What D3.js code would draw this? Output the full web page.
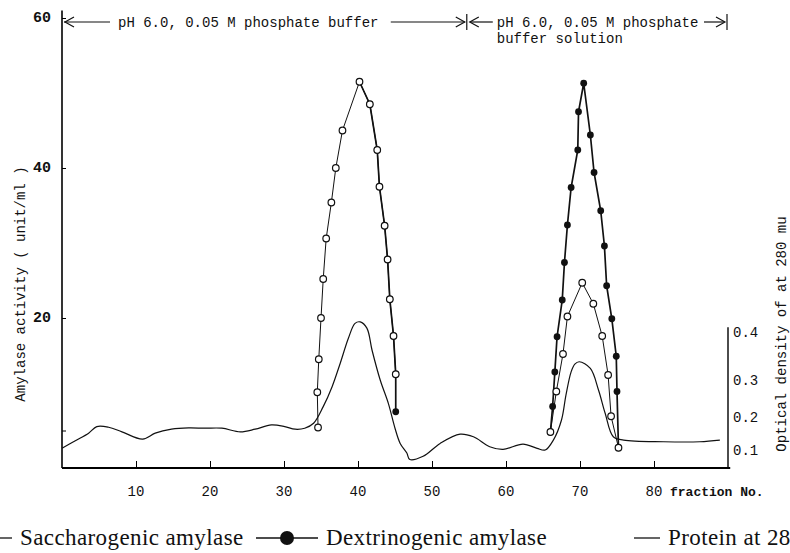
<!DOCTYPE html>
<html>
<head>
<meta charset="utf-8">
<script src="https://cdn.jsdelivr.net/npm/d3@7"></script>
<style>
  body { margin: 0; background: #fff; overflow: hidden; }
  text { fill: #111; }
</style>
</head>
<body>
<div class="chart"></div>
<script>
// fraction No. vs amylase activity (unit/ml), protein as OD at 280 mu
const fractionTicks = [10, 20, 30, 40, 50, 60, 70, 80];
const amylaseTicks = [5, 20, 40, 60];
const amylaseLabels = [20, 40, 60];
const odTicks = [0.1, 0.2, 0.3, 0.4];

const saccharogenicPeak1 = [[34.6, 5.4], [34.5, 10.1], [34.7, 14.5], [35.0, 20.0], [35.3, 25.2], [35.7, 30.6],
  [36.4, 35.4], [37.0, 40.0], [37.9, 45.0], [40.2, 51.5], [41.6, 48.5], [42.6, 42.4], [42.9, 37.5],
  [43.6, 32.3], [44.0, 27.8], [44.3, 22.5], [44.8, 17.6], [45.1, 12.5]];
const saccharogenicPeak2 = [[66.0, 4.8], [66.8, 10.2], [67.7, 15.2], [68.3, 20.2], [70.3, 24.7], [71.8, 21.9],
  [73.0, 17.6], [73.8, 12.4], [74.2, 6.9], [75.2, 2.7]];
const dextrinogenicPeak1 = [[40.2, 51.5], [41.6, 48.5], [42.6, 42.4], [42.9, 37.5], [43.6, 32.3], [44.0, 27.8],
  [44.3, 22.5], [44.8, 17.6], [45.1, 12.5], [45.1, 7.5]];
const dextrinogenicPeak2 = [[66.0, 4.8], [66.3, 8.2], [66.6, 12.8], [66.9, 17.5], [67.6, 22.4], [67.9, 27.4],
  [68.3, 32.4], [68.8, 37.4], [69.7, 42.4], [69.8, 47.5], [70.5, 51.3], [71.4, 44.4], [71.9, 39.4],
  [72.8, 34.3], [73.3, 29.6], [73.6, 24.3], [74.3, 19.9], [74.9, 14.9], [75.0, 10.2], [75.2, 2.7]];
const protein = [[0, 0.105], [1.8, 0.128], [3.6, 0.151], [4.7, 0.171], [6.3, 0.169], [8.1, 0.155], [10.9, 0.133],
  [12.6, 0.151], [14.8, 0.163], [17.1, 0.167], [19.3, 0.166], [21.6, 0.166], [24.1, 0.155], [26.1, 0.163],
  [28.3, 0.176], [30.1, 0.171], [31.5, 0.163], [32.8, 0.166], [34.0, 0.181], [35.3, 0.228], [36.5, 0.282],
  [37.6, 0.335], [38.7, 0.387], [39.6, 0.418], [40.3, 0.421], [41.2, 0.408], [41.9, 0.362], [43.0, 0.300],
  [44.1, 0.237], [45.0, 0.166], [45.7, 0.120], [46.6, 0.083], [47.0, 0.047], [48.8, 0.065], [51.1, 0.120],
  [53.8, 0.148], [55.6, 0.140], [57.8, 0.110], [59.6, 0.102], [62.3, 0.118], [64.2, 0.105], [65.3, 0.100],
  [66.4, 0.130], [67.5, 0.191], [68.1, 0.259], [68.8, 0.317], [69.3, 0.333], [69.9, 0.338], [71.4, 0.324],
  [72.5, 0.273], [73.4, 0.210], [74.5, 0.140], [75.9, 0.130], [81.3, 0.125], [86.2, 0.125], [88.9, 0.130]];
// buffer regions along the fraction axis (top annotation)
const bufferBounds = [0, 54.7, 90];
const bufferLabels = ['pH 6.0, 0.05 M phosphate buffer', 'pH 6.0, 0.05 M phosphate', 'buffer solution'];
const legendLabels = ['Saccharogenic amylase', 'Dextrinogenic amylase', 'Protein at 280 mu'];

const W = 790, H = 553;
const mono = '"Liberation Mono", "DejaVu Sans Mono", monospace';
const serif = '"Liberation Serif", "DejaVu Serif", serif';

let svg = d3.select('.chart')
  .append('svg')
    .attr('width', W)
    .attr('height', H);

let x = d3.scaleLinear().domain([0, 90]).range([62, 728]);
let y = d3.scaleLinear().domain([0, 60]).range([468, 18]);
// the OD scale on the right is hand-spaced, not even
let yOD = d3.scaleLinear().domain([0, 0.1, 0.2, 0.3, 0.4]).range([468, 450, 417, 380, 332]);

// left axis
let yAxis = d3.axisRight(y)
  .tickValues(amylaseTicks)
  .tickSize(4)
  .tickFormat('');
svg.append('g')
  .attr('transform', `translate(${x(0)}, 0)`)
  .call(yAxis)
  .call(g => g.select('.domain').attr('d', `M0,${y(61)}V${y(0)}`).attr('stroke-width', 1.6));
svg.append('g').selectAll('text')
  .data(amylaseLabels)
  .join('text')
    .attr('x', 51)
    .attr('y', d => y(d) + 4)
    .attr('text-anchor', 'end')
    .style('font', `bold 15px ${mono}`)
    .text(d => d);

// bottom axis
let xAxis = d3.axisTop(x)
  .tickValues(fractionTicks)
  .tickSize(7)
  .tickFormat('');
svg.append('g')
  .attr('transform', `translate(0, ${y(0)})`)
  .call(xAxis)
  .call(g => g.select('.domain').attr('d', `M${x(0)},0H${x(90.3)}`).attr('stroke-width', 1.8));
svg.append('g').selectAll('text')
  .data(fractionTicks)
  .join('text')
    .attr('x', d => x(d))
    .attr('y', 496)
    .attr('text-anchor', 'middle')
    .style('font', `14px ${mono}`)
    .text(d => d);
svg.append('text')
  .attr('x', x(80) + 16)
  .attr('y', 496)
  .style('font', `bold 13px ${mono}`)
  .text('fraction No.');

// right OD axis
let odAxis = d3.axisLeft(yOD)
  .tickValues(odTicks)
  .tickSize(0)
  .tickFormat('');
svg.append('g')
  .attr('transform', `translate(${x(90)}, 0)`)
  .call(odAxis)
  .call(g => g.select('.domain').attr('d', `M0,${yOD(0.41)}V${yOD(0)}`).attr('stroke-width', 1.4));
svg.append('g').selectAll('text')
  .data(odTicks)
  .join('text')
    .attr('x', x(90) + 5)
    .attr('y', d => yOD(d) + 5)
    .style('font', `14px ${mono}`)
    .text(d => d.toFixed(1));

// axis titles
svg.append('text')
  .attr('transform', 'translate(25, 284) rotate(-90)')
  .attr('text-anchor', 'middle')
  .style('font', `14px ${mono}`)
  .text('Amylase activity ( unit/ml )');
svg.append('text')
  .attr('transform', 'translate(786, 334) rotate(-90)')
  .attr('text-anchor', 'middle')
  .style('font', `14px ${mono}`)
  .text('Optical density of  at 280 mu');

// top buffer annotation
let ann = svg.append('g').attr('stroke', '#111').attr('fill', 'none').attr('stroke-width', 1.2);
let ay = 22;
let b0 = x(bufferBounds[0]), b1 = x(bufferBounds[1]), b2 = x(bufferBounds[2]);
ann.append('path').attr('d', `M${b0 + 2},${ay}H${b0 + 48}`);
ann.append('path').attr('d', `M${b0 + 12},${ay - 5}L${b0 + 3},${ay}L${b0 + 12},${ay + 5}`);
ann.append('path').attr('d', `M${b1 - 76},${ay}H${b1 - 2}`);
ann.append('path').attr('d', `M${b1 - 11},${ay - 5}L${b1 - 2},${ay}L${b1 - 11},${ay + 5}`);
ann.append('path').attr('d', `M${b1},${ay - 8}V${ay + 8}`);
ann.append('path').attr('d', `M${b1 + 3},${ay}H${b1 + 26}`);
ann.append('path').attr('d', `M${b1 + 12},${ay - 5}L${b1 + 3},${ay}L${b1 + 12},${ay + 5}`);
ann.append('path').attr('d', `M${b2 - 24},${ay}H${b2 - 4}`);
ann.append('path').attr('d', `M${b2 - 12},${ay - 5}L${b2 - 3},${ay}L${b2 - 12},${ay + 5}`);
ann.append('path').attr('d', `M${b2 - 1},${ay - 8}V${ay + 8}`);
svg.append('text')
  .attr('x', b0 + 56)
  .attr('y', ay + 5)
  .style('font', `14px ${mono}`)
  .text(bufferLabels[0]);
svg.append('text')
  .attr('x', b1 + 30)
  .attr('y', ay + 5)
  .style('font', `14px ${mono}`)
  .text(bufferLabels[1]);
svg.append('text')
  .attr('x', b1 + 30)
  .attr('y', ay + 21)
  .style('font', `14px ${mono}`)
  .text(bufferLabels[2]);

// protein curve
let proteinLine = d3.line()
  .x(d => x(d[0]))
  .y(d => yOD(d[1]))
  .curve(d3.curveCatmullRom.alpha(0.5));
svg.append('path')
  .datum(protein)
  .attr('d', proteinLine)
  .attr('fill', 'none')
  .attr('stroke', '#111')
  .attr('stroke-width', 1.2);

// amylase lines
let amyLine = d3.line()
  .x(d => x(d[0]))
  .y(d => y(d[1]));
[dextrinogenicPeak1, dextrinogenicPeak2].forEach(s => {
  svg.append('path')
    .datum(s)
    .attr('d', amyLine)
    .attr('fill', 'none')
    .attr('stroke', '#111')
    .attr('stroke-width', 1.7);
});
[saccharogenicPeak1, saccharogenicPeak2].forEach(s => {
  svg.append('path')
    .datum(s)
    .attr('d', amyLine)
    .attr('fill', 'none')
    .attr('stroke', '#111')
    .attr('stroke-width', 1);
});
[dextrinogenicPeak1, dextrinogenicPeak2].forEach(s => {
  svg.append('g').selectAll('circle')
    .data(s)
    .join('circle')
      .attr('cx', d => x(d[0]))
      .attr('cy', d => y(d[1]))
      .attr('r', 3.4)
      .attr('fill', '#111');
});
[saccharogenicPeak1, saccharogenicPeak2].forEach(s => {
  svg.append('g').selectAll('circle')
    .data(s)
    .join('circle')
      .attr('cx', d => x(d[0]))
      .attr('cy', d => y(d[1]))
      .attr('r', 3.3)
      .attr('fill', '#fff')
      .attr('stroke', '#111')
      .attr('stroke-width', 1.2);
});

// legend (runs off the right edge, as in the scan)
let lg = svg.append('g').attr('transform', 'translate(0, 538)');
lg.append('path').attr('d', 'M0,0H12').attr('stroke', '#111').attr('stroke-width', 1.3);
lg.append('path').attr('d', 'M256,0H318').attr('stroke', '#111').attr('stroke-width', 1.3);
lg.append('circle').attr('cx', 287).attr('cy', 0).attr('r', 7).attr('fill', '#111');
lg.append('path').attr('d', 'M634,0H660').attr('stroke', '#111').attr('stroke-width', 1.3);
lg.selectAll('text')
  .data(legendLabels)
  .join('text')
    .attr('x', (d, i) => [20, 326, 668][i])
    .attr('y', 7)
    .style('font', `23px ${serif}`)
    .style('letter-spacing', '0.4px')
    .text(d => d);
</script>
</body>
</html>
